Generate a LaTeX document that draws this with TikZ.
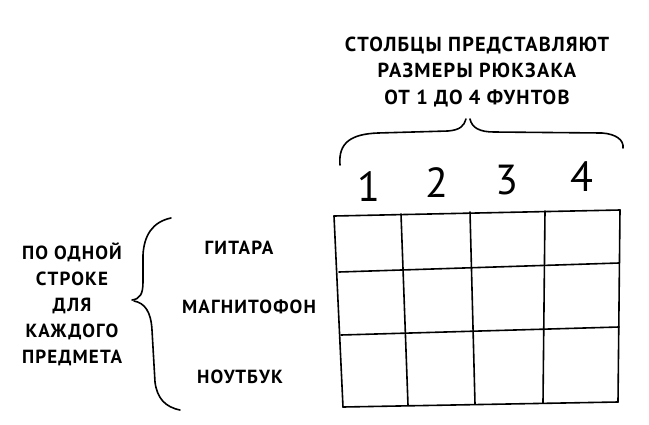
\documentclass[tikz,border=0pt]{standalone}
\usepackage{fontspec}
\newfontfamily\hand[LetterSpace=6]{PT Sans}
\usepackage{tikz}

\tikzset{
  handtext/.style={font=\hand\bfseries\fontsize{19}{26}\selectfont, align=center, inner sep=0pt},
  digit/.style={font=\hand\fontsize{42}{42}\selectfont, inner sep=0pt},
  pen/.style={line width=1.6pt, line cap=round, line join=round},
}

\begin{document}
\begin{tikzpicture}[x=1pt, y=-1pt]

\useasboundingbox (0,0) rectangle (649,424);

%\draw[help lines, step=50] (0,0) grid (649,424);

\node[handtext, font=\hand\bfseries\fontsize{20.3}{26.5}\selectfont] (title) at (477,72) {СТОЛБЦЫ ПРЕДСТАВЛЯЮТ\\РАЗМЕРЫ РЮКЗАКА\\ОТ 1 ДО 4 ФУНТОВ};

\draw[pen] (340,165) .. controls (338,142) and (352,134) .. (378,133) -- (448,131) .. controls (460,130) and (464,126) .. (466,119);
\draw[pen] (470,119) .. controls (472,128) and (480,132) .. (494,132) -- (602,133) .. controls (616,134) and (624,140) .. (623,148);

\node[digit] (c1) at (369,187) {1};
\node[digit] (c2) at (437,183) {2};
\node[digit] (c3) at (507,180) {3};
\node[digit] (c4) at (582,177) {4};

% grid
\foreach \xt/\yt/\xb/\yb in {334/216/343/407, 401/214/408/405, 470/212/475/404, 545/211/543/403, 620/210/618/402}
  \draw[pen] (\xt,\yt) -- (\xb,\yb);
\foreach \xl/\yl/\xr/\yr in {334/216/620/210, 339/272/619/263, 341/335/619/327, 343/407/618/402}
  \draw[pen] (\xl,\yl) -- (\xr,\yr);

\node[handtext] (guitar) at (239,248) {ГИТАРА};
\node[handtext] (recorder) at (249,307) {МАГНИТОФОН};
\node[handtext] (laptop) at (240,377) {НОУТБУК};

\draw[pen] (171,218) .. controls (152,222) and (144,236) .. (143,255) -- (143,282) .. controls (143,294) and (140,299) .. (132,300);
\draw[pen] (134,301) .. controls (145,303) and (151,312) .. (152,330) -- (155,382) .. controls (157,398) and (165,407) .. (180,410);

\node[handtext] (note) at (72,304) {ПО ОДНОЙ\\СТРОКЕ\\ДЛЯ\\КАЖДОГО\\ПРЕДМЕТА};

\end{tikzpicture}
\end{document}
